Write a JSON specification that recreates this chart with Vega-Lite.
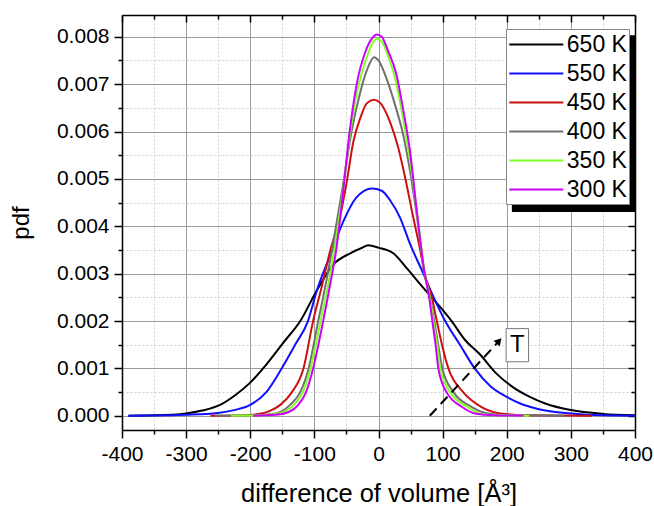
{
  "$schema": "https://vega.github.io/schema/vega-lite/v6.json",
  "width": 513,
  "height": 415,
  "autosize": {"type": "none"},
  "padding": {"left": 122, "top": 15, "right": 19, "bottom": 76},
  "background": "white",
  "config": {
    "font": "Liberation Sans",
    "view": {"stroke": null},
    "axis": {
      "labelFont": "Liberation Sans",
      "titleFont": "Liberation Sans",
      "labelFontSize": 21,
      "titleFontSize": 24,
      "titleFontWeight": "normal",
      "labelColor": "black",
      "titleColor": "black",
      "domainColor": "black",
      "domainWidth": 1.5,
      "tickColor": "black",
      "tickWidth": 1.5,
      "labelFlush": false,
      "labelOverlap": false
    }
  },
  "datasets": {
    "curves": [
      {"T": "650 K", "v": -390, "pdf": 0.000003},
      {"T": "650 K", "v": -350, "pdf": 0.00001},
      {"T": "650 K", "v": -300, "pdf": 0.00005},
      {"T": "650 K", "v": -275, "pdf": 0.00011},
      {"T": "650 K", "v": -247, "pdf": 0.00023},
      {"T": "650 K", "v": -222, "pdf": 0.00045},
      {"T": "650 K", "v": -200, "pdf": 0.0007},
      {"T": "650 K", "v": -175, "pdf": 0.00108},
      {"T": "650 K", "v": -148, "pdf": 0.00155},
      {"T": "650 K", "v": -122, "pdf": 0.002},
      {"T": "650 K", "v": -96, "pdf": 0.00265},
      {"T": "650 K", "v": -70, "pdf": 0.0032},
      {"T": "650 K", "v": -44, "pdf": 0.00343},
      {"T": "650 K", "v": -25, "pdf": 0.00355},
      {"T": "650 K", "v": -16, "pdf": 0.0036},
      {"T": "650 K", "v": 0, "pdf": 0.00355},
      {"T": "650 K", "v": 23, "pdf": 0.00343},
      {"T": "650 K", "v": 45, "pdf": 0.0031},
      {"T": "650 K", "v": 70, "pdf": 0.0027},
      {"T": "650 K", "v": 83, "pdf": 0.0025},
      {"T": "650 K", "v": 114, "pdf": 0.002},
      {"T": "650 K", "v": 135, "pdf": 0.0016},
      {"T": "650 K", "v": 158, "pdf": 0.0013},
      {"T": "650 K", "v": 184, "pdf": 0.00089},
      {"T": "650 K", "v": 210, "pdf": 0.0006},
      {"T": "650 K", "v": 236, "pdf": 0.0004},
      {"T": "650 K", "v": 260, "pdf": 0.00026},
      {"T": "650 K", "v": 300, "pdf": 0.00012},
      {"T": "650 K", "v": 350, "pdf": 0.00004},
      {"T": "650 K", "v": 400, "pdf": 0.00001},

      {"T": "550 K", "v": -390, "pdf": 0.000002},
      {"T": "550 K", "v": -350, "pdf": 0.000005},
      {"T": "550 K", "v": -300, "pdf": 0.00002},
      {"T": "550 K", "v": -250, "pdf": 0.00006},
      {"T": "550 K", "v": -225, "pdf": 0.00012},
      {"T": "550 K", "v": -200, "pdf": 0.00023},
      {"T": "550 K", "v": -175, "pdf": 0.0005},
      {"T": "550 K", "v": -151, "pdf": 0.001},
      {"T": "550 K", "v": -130, "pdf": 0.0015},
      {"T": "550 K", "v": -110, "pdf": 0.002},
      {"T": "550 K", "v": -96, "pdf": 0.00265},
      {"T": "550 K", "v": -75, "pdf": 0.0034},
      {"T": "550 K", "v": -55, "pdf": 0.0041},
      {"T": "550 K", "v": -35, "pdf": 0.0046},
      {"T": "550 K", "v": -10, "pdf": 0.0048},
      {"T": "550 K", "v": 5, "pdf": 0.00475},
      {"T": "550 K", "v": 18, "pdf": 0.00455},
      {"T": "550 K", "v": 33, "pdf": 0.0042},
      {"T": "550 K", "v": 50, "pdf": 0.0036},
      {"T": "550 K", "v": 70, "pdf": 0.003},
      {"T": "550 K", "v": 86, "pdf": 0.0025},
      {"T": "550 K", "v": 104, "pdf": 0.002},
      {"T": "550 K", "v": 127, "pdf": 0.0015},
      {"T": "550 K", "v": 150, "pdf": 0.001},
      {"T": "550 K", "v": 175, "pdf": 0.00062},
      {"T": "550 K", "v": 200, "pdf": 0.0004},
      {"T": "550 K", "v": 221, "pdf": 0.00026},
      {"T": "550 K", "v": 250, "pdf": 0.00014},
      {"T": "550 K", "v": 300, "pdf": 0.00005},
      {"T": "550 K", "v": 350, "pdf": 0.00001},
      {"T": "550 K", "v": 400, "pdf": 0.000002},

      {"T": "450 K", "v": -262, "pdf": 0.000002},
      {"T": "450 K", "v": -220, "pdf": 0.000005},
      {"T": "450 K", "v": -190, "pdf": 0.00003},
      {"T": "450 K", "v": -170, "pdf": 0.0001},
      {"T": "450 K", "v": -153, "pdf": 0.00023},
      {"T": "450 K", "v": -135, "pdf": 0.0005},
      {"T": "450 K", "v": -117, "pdf": 0.001},
      {"T": "450 K", "v": -102, "pdf": 0.002},
      {"T": "450 K", "v": -89, "pdf": 0.0027},
      {"T": "450 K", "v": -75, "pdf": 0.0035},
      {"T": "450 K", "v": -60, "pdf": 0.0042},
      {"T": "450 K", "v": -50, "pdf": 0.0049},
      {"T": "450 K", "v": -39, "pdf": 0.0058},
      {"T": "450 K", "v": -28, "pdf": 0.0063},
      {"T": "450 K", "v": -18, "pdf": 0.0066},
      {"T": "450 K", "v": -7, "pdf": 0.00667},
      {"T": "450 K", "v": 3, "pdf": 0.0066},
      {"T": "450 K", "v": 18, "pdf": 0.0062},
      {"T": "450 K", "v": 30, "pdf": 0.0057},
      {"T": "450 K", "v": 42, "pdf": 0.005},
      {"T": "450 K", "v": 54, "pdf": 0.0042},
      {"T": "450 K", "v": 65, "pdf": 0.0035},
      {"T": "450 K", "v": 72, "pdf": 0.003},
      {"T": "450 K", "v": 83, "pdf": 0.0025},
      {"T": "450 K", "v": 91, "pdf": 0.002},
      {"T": "450 K", "v": 99, "pdf": 0.0015},
      {"T": "450 K", "v": 109, "pdf": 0.001},
      {"T": "450 K", "v": 132, "pdf": 0.0005},
      {"T": "450 K", "v": 160, "pdf": 0.00019},
      {"T": "450 K", "v": 190, "pdf": 0.00005},
      {"T": "450 K", "v": 230, "pdf": 0.00001},
      {"T": "450 K", "v": 333, "pdf": 0.000002},

      {"T": "400 K", "v": -255, "pdf": 0.000002},
      {"T": "400 K", "v": -200, "pdf": 0.000005},
      {"T": "400 K", "v": -170, "pdf": 0.00003},
      {"T": "400 K", "v": -150, "pdf": 0.0001},
      {"T": "400 K", "v": -138, "pdf": 0.00023},
      {"T": "400 K", "v": -122, "pdf": 0.0005},
      {"T": "400 K", "v": -109, "pdf": 0.001},
      {"T": "400 K", "v": -94, "pdf": 0.002},
      {"T": "400 K", "v": -82, "pdf": 0.0028},
      {"T": "400 K", "v": -70, "pdf": 0.0037},
      {"T": "400 K", "v": -55, "pdf": 0.0049},
      {"T": "400 K", "v": -42, "pdf": 0.006},
      {"T": "400 K", "v": -29, "pdf": 0.0068},
      {"T": "400 K", "v": -18, "pdf": 0.0073},
      {"T": "400 K", "v": -7, "pdf": 0.00757},
      {"T": "400 K", "v": 0, "pdf": 0.0075},
      {"T": "400 K", "v": 13, "pdf": 0.0071},
      {"T": "400 K", "v": 25, "pdf": 0.0066},
      {"T": "400 K", "v": 39, "pdf": 0.0059},
      {"T": "400 K", "v": 50, "pdf": 0.0051},
      {"T": "400 K", "v": 60, "pdf": 0.0042},
      {"T": "400 K", "v": 72, "pdf": 0.003},
      {"T": "400 K", "v": 80, "pdf": 0.0025},
      {"T": "400 K", "v": 87, "pdf": 0.002},
      {"T": "400 K", "v": 93, "pdf": 0.0015},
      {"T": "400 K", "v": 99.5, "pdf": 0.001},
      {"T": "400 K", "v": 117, "pdf": 0.0005},
      {"T": "400 K", "v": 145, "pdf": 0.00019},
      {"T": "400 K", "v": 170, "pdf": 0.00005},
      {"T": "400 K", "v": 200, "pdf": 0.00001},
      {"T": "400 K", "v": 290, "pdf": 0.000002},

      {"T": "350 K", "v": -230, "pdf": 0.000002},
      {"T": "350 K", "v": -195, "pdf": 0.000005},
      {"T": "350 K", "v": -160, "pdf": 0.00004},
      {"T": "350 K", "v": -145, "pdf": 0.0001},
      {"T": "350 K", "v": -132, "pdf": 0.00023},
      {"T": "350 K", "v": -118, "pdf": 0.0005},
      {"T": "350 K", "v": -106, "pdf": 0.001},
      {"T": "350 K", "v": -91, "pdf": 0.00195},
      {"T": "350 K", "v": -78, "pdf": 0.0028},
      {"T": "350 K", "v": -68, "pdf": 0.0036},
      {"T": "350 K", "v": -57, "pdf": 0.0046},
      {"T": "350 K", "v": -45, "pdf": 0.0059},
      {"T": "350 K", "v": -34, "pdf": 0.0068},
      {"T": "350 K", "v": -20, "pdf": 0.0075},
      {"T": "350 K", "v": -8, "pdf": 0.0079},
      {"T": "350 K", "v": -3, "pdf": 0.00796},
      {"T": "350 K", "v": 5, "pdf": 0.0079},
      {"T": "350 K", "v": 15, "pdf": 0.0076},
      {"T": "350 K", "v": 28, "pdf": 0.007},
      {"T": "350 K", "v": 38, "pdf": 0.0063},
      {"T": "350 K", "v": 49, "pdf": 0.0054},
      {"T": "350 K", "v": 60, "pdf": 0.0043},
      {"T": "350 K", "v": 72, "pdf": 0.003},
      {"T": "350 K", "v": 80, "pdf": 0.0025},
      {"T": "350 K", "v": 85.5, "pdf": 0.002},
      {"T": "350 K", "v": 91.5, "pdf": 0.0015},
      {"T": "350 K", "v": 96.5, "pdf": 0.001},
      {"T": "350 K", "v": 111.5, "pdf": 0.0005},
      {"T": "350 K", "v": 138, "pdf": 0.00019},
      {"T": "350 K", "v": 160, "pdf": 0.00004},
      {"T": "350 K", "v": 190, "pdf": 0.00001},
      {"T": "350 K", "v": 235, "pdf": 0.000002},

      {"T": "300 K", "v": -195, "pdf": 0.000002},
      {"T": "300 K", "v": -160, "pdf": 0.00002},
      {"T": "300 K", "v": -140, "pdf": 0.00008},
      {"T": "300 K", "v": -125, "pdf": 0.00023},
      {"T": "300 K", "v": -113, "pdf": 0.0005},
      {"T": "300 K", "v": -102, "pdf": 0.001},
      {"T": "300 K", "v": -87, "pdf": 0.00195},
      {"T": "300 K", "v": -75, "pdf": 0.0028},
      {"T": "300 K", "v": -66, "pdf": 0.0035},
      {"T": "300 K", "v": -57, "pdf": 0.0045},
      {"T": "300 K", "v": -45, "pdf": 0.006},
      {"T": "300 K", "v": -34, "pdf": 0.007},
      {"T": "300 K", "v": -20, "pdf": 0.0077},
      {"T": "300 K", "v": -8, "pdf": 0.008},
      {"T": "300 K", "v": -3, "pdf": 0.00805},
      {"T": "300 K", "v": 5, "pdf": 0.008},
      {"T": "300 K", "v": 15, "pdf": 0.0077},
      {"T": "300 K", "v": 28, "pdf": 0.0072},
      {"T": "300 K", "v": 38, "pdf": 0.0065},
      {"T": "300 K", "v": 49, "pdf": 0.0056},
      {"T": "300 K", "v": 60, "pdf": 0.0043},
      {"T": "300 K", "v": 72, "pdf": 0.003},
      {"T": "300 K", "v": 79, "pdf": 0.0025},
      {"T": "300 K", "v": 84, "pdf": 0.002},
      {"T": "300 K", "v": 89, "pdf": 0.0015},
      {"T": "300 K", "v": 93.3, "pdf": 0.001},
      {"T": "300 K", "v": 106, "pdf": 0.0005},
      {"T": "300 K", "v": 130, "pdf": 0.00019},
      {"T": "300 K", "v": 150, "pdf": 0.00005},
      {"T": "300 K", "v": 180, "pdf": 0.00001},
      {"T": "300 K", "v": 226, "pdf": 0.000002}
    ],
    "shadow": [{"xa": 208, "xb": 401, "ya": 0.00803, "yb": 0.0043}],
    "arrow": [{"xa": 80, "ya": 0, "xb": 186, "yb": 0.00155}],
    "head": [{"hx": 188, "hy": 0.00158}],
    "tbox": [{"xa": 199, "xb": 234, "ya": 0.00184, "yb": 0.00114, "xm": 216.5, "ym": 0.00149, "label": "T"}]
  },
  "layer": [
    {
      "data": {"name": "shadow"},
      "mark": {"type": "rect", "color": "black"},
      "encoding": {
        "x": {
          "field": "xa", "type": "quantitative",
          "scale": {"domain": [-400, 400], "nice": false, "zero": false},
          "axis": {
            "orient": "bottom", "title": null, "labels": false, "domain": false,
            "values": [-350, -250, -150, -50, 50, 150, 250, 350],
            "tickSize": 4, "grid": true, "gridColor": "#cfcfcf", "gridDash": [2, 2], "gridWidth": 1
          }
        },
        "x2": {"field": "xb"},
        "y": {
          "field": "ya", "type": "quantitative",
          "scale": {"domain": [-0.0003, 0.00846], "nice": false, "zero": false},
          "axis": {
            "orient": "left", "title": null, "labels": false, "domain": false,
            "values": [0.0005, 0.0015, 0.0025, 0.0035, 0.0045, 0.0055, 0.0065, 0.0075],
            "tickSize": 4, "grid": true, "gridColor": "#cfcfcf", "gridDash": [2, 2], "gridWidth": 1
          }
        },
        "y2": {"field": "yb"}
      }
    },
    {
      "data": {"name": "curves"},
      "mark": {"type": "line", "strokeWidth": 2, "interpolate": "monotone"},
      "encoding": {
        "x": {
          "field": "v", "type": "quantitative",
          "scale": {"domain": [-400, 400], "nice": false, "zero": false},
          "axis": {
            "orient": "bottom",
            "title": "difference of volume [Å³]",
            "titleFontSize": 25.5,
            "values": [-400, -300, -200, -100, 0, 100, 200, 300, 400],
            "labelExpr": "(datum.value < 0 ? '-' : '') + format(abs(datum.value), 'd')",
            "tickSize": 8,
            "grid": true,
            "gridColor": "#9a9a9a",
            "gridWidth": 1,
            "labelPadding": 5,
            "titlePadding": 17
          }
        },
        "y": {
          "field": "pdf", "type": "quantitative",
          "scale": {"domain": [-0.0003, 0.00846], "nice": false, "zero": false},
          "axis": {
            "orient": "left",
            "title": "pdf",
            "values": [0, 0.001, 0.002, 0.003, 0.004, 0.005, 0.006, 0.007, 0.008],
            "format": ".3f",
            "tickSize": 8,
            "grid": true,
            "gridColor": "#9a9a9a",
            "gridWidth": 1,
            "labelPadding": 5,
            "titlePadding": 23
          }
        },
        "color": {
          "field": "T", "type": "nominal",
          "scale": {
            "domain": ["650 K", "550 K", "450 K", "400 K", "350 K", "300 K"],
            "range": ["#000000", "#1010ff", "#cc1010", "#707070", "#80ff20", "#cc00ff"]
          },
          "legend": {
            "title": null,
            "orient": "none",
            "legendX": 384,
            "legendY": 14,
            "padding": 2,
            "fillColor": "white",
            "strokeColor": "#888888",
            "symbolType": "M-2.16,0H2.16",
            "symbolSize": 625,
            "symbolStrokeWidth": 2,
            "symbolOffset": 14.8,
            "labelOffset": 17,
            "labelFontSize": 23,
            "labelFont": "Liberation Sans",
            "labelColor": "black",
            "rowPadding": 3
          }
        }
      }
    },
    {
      "data": {"name": "arrow"},
      "mark": {"type": "rule", "strokeWidth": 2, "strokeDash": [10, 6], "color": "black"},
      "encoding": {
        "x": {
          "field": "xa", "type": "quantitative",
          "scale": {"domain": [-400, 400], "nice": false, "zero": false},
          "axis": {
            "orient": "top", "title": null, "labels": false, "grid": false,
            "values": [-400, -300, -200, -100, 0, 100, 200, 300, 400],
            "tickSize": -7
          }
        },
        "x2": {"field": "xb"},
        "y": {
          "field": "ya", "type": "quantitative",
          "scale": {"domain": [-0.0003, 0.00846], "nice": false, "zero": false},
          "axis": {
            "orient": "right", "title": null, "labels": false, "grid": false,
            "values": [0, 0.001, 0.002, 0.003, 0.004, 0.005, 0.006, 0.007, 0.008],
            "tickSize": -7
          }
        },
        "y2": {"field": "yb"}
      }
    },
    {
      "data": {"name": "head"},
      "mark": {"type": "point", "shape": "triangle-up", "angle": 43, "filled": true, "color": "black", "size": 70, "opacity": 1},
      "encoding": {
        "x": {
          "field": "hx", "type": "quantitative",
          "scale": {"domain": [-400, 400], "nice": false, "zero": false},
          "axis": {
            "orient": "top", "title": null, "labels": false, "grid": false, "domain": false,
            "values": [-350, -250, -150, -50, 50, 150, 250, 350],
            "tickSize": -4
          }
        },
        "y": {
          "field": "hy", "type": "quantitative",
          "scale": {"domain": [-0.0003, 0.00846], "nice": false, "zero": false},
          "axis": {
            "orient": "right", "title": null, "labels": false, "grid": false, "domain": false,
            "values": [0.0005, 0.0015, 0.0025, 0.0035, 0.0045, 0.0055, 0.0065, 0.0075],
            "tickSize": -4
          }
        }
      }
    },
    {
      "data": {"name": "tbox"},
      "mark": {"type": "rect", "fill": "white", "stroke": "#777777", "strokeWidth": 1},
      "encoding": {
        "x": {"field": "xa", "type": "quantitative", "scale": {"domain": [-400, 400], "nice": false, "zero": false}, "axis": null},
        "x2": {"field": "xb"},
        "y": {"field": "ya", "type": "quantitative", "scale": {"domain": [-0.0003, 0.00846], "nice": false, "zero": false}, "axis": null},
        "y2": {"field": "yb"}
      }
    },
    {
      "data": {"name": "tbox"},
      "mark": {"type": "text", "fontSize": 24, "font": "Liberation Sans", "color": "black", "align": "center", "baseline": "middle"},
      "encoding": {
        "x": {"field": "xm", "type": "quantitative", "scale": {"domain": [-400, 400], "nice": false, "zero": false}, "axis": null},
        "y": {"field": "ym", "type": "quantitative", "scale": {"domain": [-0.0003, 0.00846], "nice": false, "zero": false}, "axis": null},
        "text": {"field": "label"}
      }
    }
  ],
  "resolve": {"axis": {"x": "independent", "y": "independent"}}
}
